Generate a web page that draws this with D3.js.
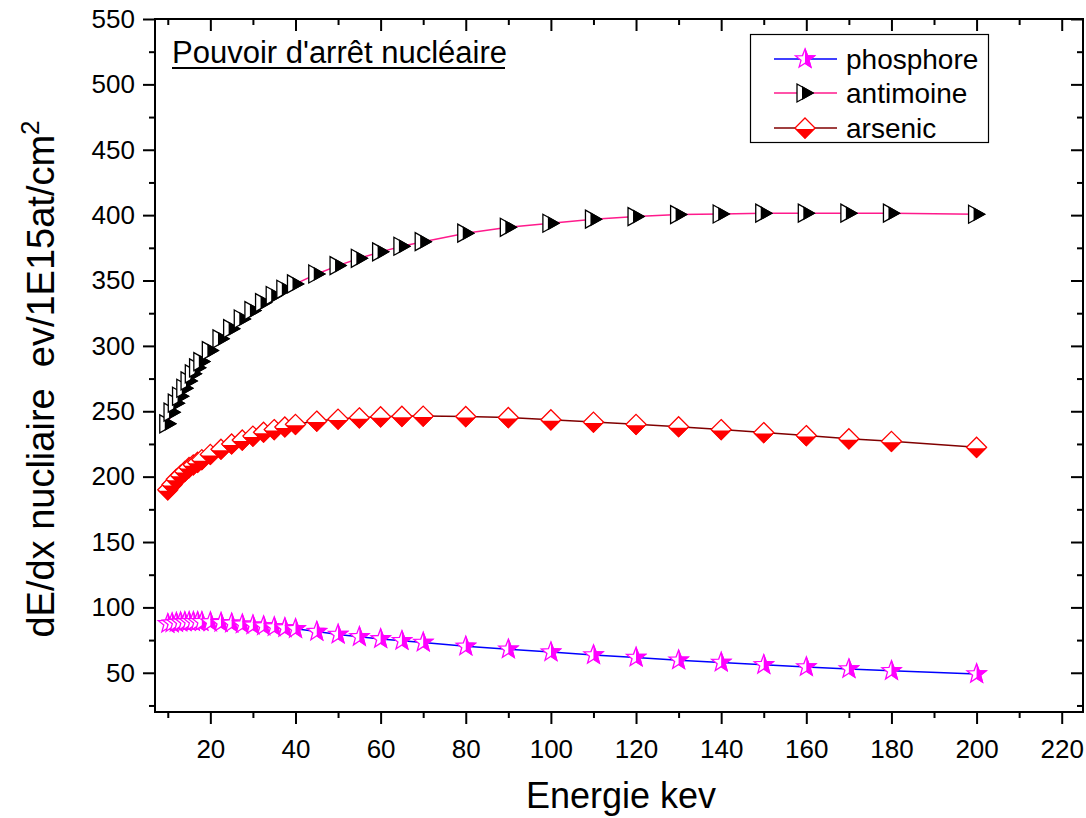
<!DOCTYPE html>
<html>
<head>
<meta charset="utf-8">
<script src="https://cdn.jsdelivr.net/npm/d3@7"></script>
<style>
  body { margin: 0; background: #fff; }
  text { font-family: "Liberation Sans", Arial, sans-serif; fill: #000; }
</style>
</head>
<body>
<script>
// energies (keV) - SRIM table steps
var energies = [10, 11, 12, 13, 14, 15, 16, 17, 18, 20, 22.5, 25, 27.5, 30, 32.5, 35, 37.5, 40,
  45, 50, 55, 60, 65, 70, 80, 90, 100, 110, 120, 130, 140, 150, 160, 170, 180, 200];

// nuclear stopping values
var phosphore = [87.5, 88, 88.4, 88.7, 88.9, 89, 89, 89, 89, 88.8, 88.3, 87.8, 87.1, 86.4, 85.7, 85, 84.3, 83.6,
  81.5, 79.3, 77.5, 75.9, 74.5, 73.2, 70.2, 68, 65.8, 63.6, 61.7, 59.6, 57.9, 56.1, 54.4, 52.9, 51.5, 49.1];
var antimoine = [240.4, 249.3, 256.2, 261.5, 267.6, 273.2, 278.6, 283.2, 288, 296.4, 305.4, 313.2, 320.6, 327, 333.1, 338.5, 343.3, 347.4,
  355, 361.4, 367, 371.9, 376.2, 379.7, 386.2, 390.7, 393.8, 396.9, 398.9, 400.4, 400.9, 401.5, 401.5, 401.5, 401.5, 400.7];
var arsenic = [190, 194, 198, 201, 204, 207, 209, 211, 213, 217, 221, 225, 228, 231, 234, 236, 238, 240,
  242.5, 244, 245, 245.8, 246.2, 246.3, 246, 245.2, 243.5, 241.7, 240, 238.2, 236, 233.7, 231.4, 229, 227, 222.5];

var seriesNames = ["phosphore", "antimoine", "arsenic"];
var xMajor = [20, 40, 60, 80, 100, 120, 140, 160, 180, 200, 220];
var yMajor = [50, 100, 150, 200, 250, 300, 350, 400, 450, 500, 550];

var W = 1086, H = 818;
// plot frame (don't use "top" as a global name, it's window.top)
var pL = 155, pR = 1083, pT = 19, pB = 712;

var svg = d3.select("body").append("svg").attr("width", W).attr("height", H);

var x = d3.scaleLinear().domain([7, 225]).range([pL, pR]);
var y = d3.scaleLinear().domain([20, 550]).range([pB, pT]);

// marker shapes
function starPath(R, r) {
  var pts = [];
  for (var i = 0; i < 10; i++) {
    var a = -Math.PI / 2 + i * Math.PI / 5;
    var rad = i % 2 == 0 ? R : r;
    pts.push([rad * Math.cos(a), rad * Math.sin(a)]);
  }
  return "M" + pts.map(function(p) { return p[0].toFixed(2) + "," + p[1].toFixed(2); }).join("L") + "Z";
}
var shapes = {
  phosphore: { d: starPath(10, 4.2), color: "#ff00ff", line: "#0000ff", clip: [0, -12, 12, 24] },
  antimoine: { d: "M-8,-9L8,0L-8,9Z", color: "#000000", line: "#ff1a8c", clip: [-3, -12, 14, 24] },
  arsenic: { d: "M0,-10L10,0L0,10L-10,0Z", color: "#ff0000", line: "#800000", clip: [-12, 1, 24, 12] }
};

var defs = svg.append("defs");
seriesNames.forEach(function(n) {
  var c = shapes[n].clip;
  defs.append("clipPath").attr("id", "half-" + n)
    .append("rect").attr("x", c[0]).attr("y", c[1]).attr("width", c[2]).attr("height", c[3]);
});

function drawMarker(g, name) {
  var s = shapes[name];
  g.append("path").attr("d", s.d).attr("fill", "#fff").attr("stroke", s.color).attr("stroke-width", 1.3);
  g.append("path").attr("d", s.d).attr("fill", s.color).attr("stroke", s.color).attr("stroke-width", 1.3)
    .attr("clip-path", "url(#half-" + name + ")");
}

// axes
function axisG(axis, tx, ty) {
  var g = svg.append("g").attr("transform", "translate(" + tx + "," + ty + ")").call(axis);
  g.select(".domain").remove();
  g.selectAll(".tick line").attr("stroke", "#000").attr("stroke-width", 2);
  return g;
}
var xMinor = d3.range(10, 225, 20);
var yMinor = d3.range(25, 550, 50);

var gx = axisG(d3.axisBottom(x).tickValues(xMajor).tickSize(12).tickPadding(16), 0, pB);
gx.selectAll("text").attr("font-size", 26);
axisG(d3.axisBottom(x).tickValues(xMinor).tickSize(6).tickFormat(""), 0, pB);
axisG(d3.axisTop(x).tickValues(xMajor).tickSize(-12).tickFormat(""), 0, pT);
axisG(d3.axisTop(x).tickValues(xMinor).tickSize(-6).tickFormat(""), 0, pT);

var gy = axisG(d3.axisLeft(y).tickValues(yMajor).tickSize(12).tickPadding(8), pL, 0);
gy.selectAll("text").attr("font-size", 26);
axisG(d3.axisLeft(y).tickValues(yMinor).tickSize(6).tickFormat(""), pL, 0);
axisG(d3.axisRight(y).tickValues(yMajor).tickSize(-12).tickFormat(""), pR, 0);
axisG(d3.axisRight(y).tickValues(yMinor).tickSize(-6).tickFormat(""), pR, 0);

svg.append("rect").attr("x", pL).attr("y", pT).attr("width", pR - pL).attr("height", pB - pT)
  .attr("fill", "none").attr("stroke", "#000").attr("stroke-width", 2);

// series
var data = { phosphore: phosphore, antimoine: antimoine, arsenic: arsenic };
var line = d3.line().x(function(d) { return x(d[0]); }).y(function(d) { return y(d[1]); });

seriesNames.forEach(function(n) {
  var pts = energies.map(function(e, i) { return [e, data[n][i]]; });
  svg.append("path").datum(pts).attr("d", line).attr("fill", "none")
    .attr("stroke", shapes[n].line).attr("stroke-width", 1.5);
  svg.append("g").selectAll("g").data(pts).enter().append("g")
    .attr("transform", function(d) { return "translate(" + x(d[0]) + "," + y(d[1]) + ")"; })
    .each(function() { drawMarker(d3.select(this), n); });
});

// title
svg.append("text").attr("x", 172).attr("y", 63).attr("font-size", 31)
  .text("Pouvoir d'arrêt nucléaire");
svg.append("line").attr("x1", 172).attr("x2", 505).attr("y1", 68).attr("y2", 68)
  .attr("stroke", "#000").attr("stroke-width", 2);

// legend
var lg = svg.append("g");
lg.append("rect").attr("x", 750.5).attr("y", 34.5).attr("width", 238).attr("height", 108)
  .attr("fill", "#fff").attr("stroke", "#000").attr("stroke-width", 1.2);
var rowY = [59, 93, 128];
seriesNames.forEach(function(n, i) {
  lg.append("line").attr("x1", 774).attr("x2", 837).attr("y1", rowY[i]).attr("y2", rowY[i])
    .attr("stroke", shapes[n].line).attr("stroke-width", 1.5);
  drawMarker(lg.append("g").attr("transform", "translate(805," + rowY[i] + ")"), n);
  lg.append("text").attr("x", 846).attr("y", rowY[i] + 10).attr("font-size", 28).text(n);
});

// axis titles
svg.append("text").attr("x", 621).attr("y", 808).attr("text-anchor", "middle").attr("font-size", 36)
  .text("Energie kev");
var yl = svg.append("text").attr("transform", "translate(54,379) rotate(-90)")
  .attr("text-anchor", "middle").attr("font-size", 38);
yl.append("tspan").text("dE/dx nucliaire\u00a0\u00a0ev/1E15at/cm");
yl.append("tspan").attr("dy", -15).attr("font-size", 26).text("2");
</script>
</body>
</html>
